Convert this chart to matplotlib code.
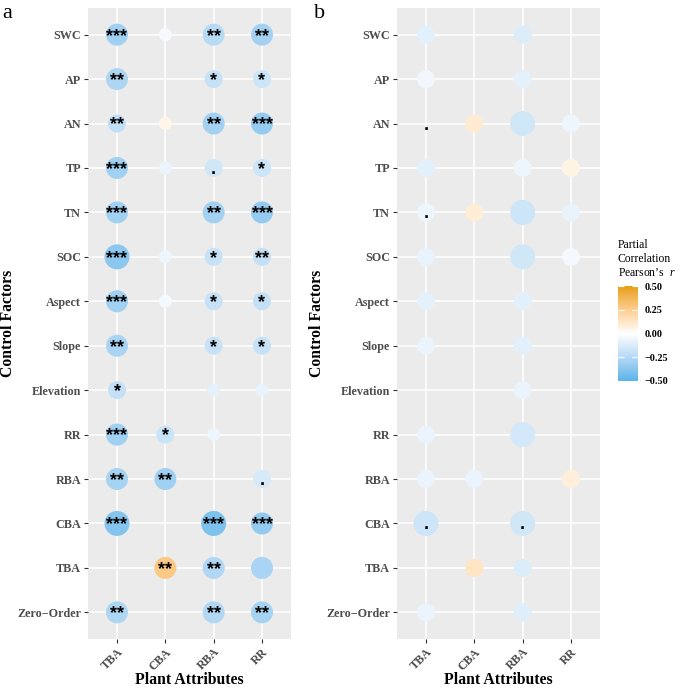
import numpy as np
import matplotlib
matplotlib.use('Agg')
import matplotlib.pyplot as plt
from matplotlib.colors import ListedColormap, Normalize, to_rgb
from matplotlib.cm import ScalarMappable

plt.rcParams['font.family'] = ['Liberation Serif', 'DejaVu Serif']
plt.rcParams['mathtext.fontset'] = 'custom'
plt.rcParams['mathtext.it'] = 'Liberation Serif:italic'
plt.rcParams['mathtext.rm'] = 'Liberation Serif'

# Daten
attributes = ['TBA', 'CBA', 'RBA', 'RR']
factors = ['SWC', 'AP', 'AN', 'TP', 'TN', 'SOC', 'Aspect', 'Slope',
           'Elevation', 'RR', 'RBA', 'CBA', 'TBA', 'Zero\u2212Order']
nan = np.nan

# panel a (rows = factors, cols = attributes)
r_a = [
    [-0.31, -0.03, -0.24, -0.30],
    [-0.27, nan, -0.19, -0.17],
    [-0.21, 0.05, -0.30, -0.34],
    [-0.31, -0.07, -0.16, -0.17],
    [-0.31, nan, -0.30, -0.34],
    [-0.37, -0.06, -0.19, -0.20],
    [-0.31, -0.04, -0.19, -0.20],
    [-0.28, nan, -0.19, -0.19],
    [-0.20, nan, -0.09, -0.08],
    [-0.31, -0.18, -0.06, nan],
    [-0.29, -0.31, nan, -0.14],
    [-0.39, nan, -0.41, -0.35],
    [nan, 0.27, -0.26, -0.28],
    [-0.27, nan, -0.26, -0.29],
]
sig_a = [
    ['***', '', '**', '**'],
    ['**', '', '*', '*'],
    ['**', '', '**', '***'],
    ['***', '', '.', '*'],
    ['***', '', '**', '***'],
    ['***', '', '*', '**'],
    ['***', '', '*', '*'],
    ['**', '', '*', '*'],
    ['*', '', '', ''],
    ['***', '*', '', ''],
    ['**', '**', '', '.'],
    ['***', '', '***', '***'],
    ['', '**', '**', ''],
    ['**', '', '**', '**'],
]

# panel b
r_b = [
    [-0.10, nan, -0.12, nan],
    [-0.05, nan, -0.09, nan],
    [nan, 0.10, -0.16, -0.06],
    [-0.10, nan, -0.06, 0.06],
    [-0.06, 0.09, -0.17, -0.08],
    [-0.08, nan, -0.16, -0.04],
    [-0.09, nan, -0.10, nan],
    [-0.07, nan, -0.10, nan],
    [nan, nan, -0.07, nan],
    [-0.07, nan, -0.15, nan],
    [-0.07, -0.07, nan, 0.08],
    [-0.17, nan, -0.16, nan],
    [nan, 0.13, -0.12, nan],
    [-0.07, nan, -0.11, nan],
]
sig_b = [
    ['', '', '', ''],
    ['', '', '', ''],
    ['.', '', '', ''],
    ['', '', '', ''],
    ['.', '', '', ''],
    ['', '', '', ''],
    ['', '', '', ''],
    ['', '', '', ''],
    ['', '', '', ''],
    ['', '', '', ''],
    ['', '', '', ''],
    ['.', '', '.', ''],
    ['', '', '', ''],
    ['', '', '', ''],
]


# Farbverlauf im Lab-Raum (wie scale_colour_gradient2)
def to_lab(c):
    c = np.array(to_rgb(c))
    lin = np.where(c <= 0.04045, c / 12.92, ((c + 0.055) / 1.055) ** 2.4)
    M = np.array([[0.4124, 0.3576, 0.1805],
                  [0.2126, 0.7152, 0.0722],
                  [0.0193, 0.1192, 0.9505]])
    xyz = M @ lin / np.array([0.95047, 1.0, 1.08883])
    f = np.where(xyz > 0.008856, np.cbrt(xyz), 7.787 * xyz + 16 / 116)
    return np.array([116 * f[1] - 16, 500 * (f[0] - f[1]), 200 * (f[1] - f[2])])


def from_lab(lab):
    fy = (lab[0] + 16) / 116
    fx = fy + lab[1] / 500
    fz = fy - lab[2] / 200
    f = np.array([fx, fy, fz])
    xyz = np.where(f ** 3 > 0.008856, f ** 3, (f - 16 / 116) / 7.787)
    xyz = xyz * np.array([0.95047, 1.0, 1.08883])
    Mi = np.array([[3.2406, -1.5372, -0.4986],
                   [-0.9689, 1.8758, 0.0415],
                   [0.0557, -0.2040, 1.0570]])
    lin = Mi @ xyz
    c = np.where(lin <= 0.0031308, 12.92 * lin, 1.055 * np.clip(lin, 0, None) ** (1 / 2.4) - 0.055)
    return np.clip(c, 0, 1)


low, mid, high = to_lab('#56B4E9'), to_lab('#FFFFFF'), to_lab('#E69F00')
cols = []
for t in np.linspace(-1, 1, 256):
    if t < 0:
        cols.append(from_lab(mid + (low - mid) * (-t)))
    else:
        cols.append(from_lab(mid + (high - mid) * t))
cmap = ListedColormap(cols)
norm = Normalize(-0.5, 0.5)
px = 0.72  # points per pixel at dpi 100


def panel(ax, r, sig, breaks, diam_px):
    r = np.array(r, dtype=float)
    ny = len(factors)
    ax.set_facecolor('#EBEBEB')
    for s in ax.spines.values():
        s.set_visible(False)
    ax.set_xlim(0.4, len(attributes) + 0.6)
    ax.set_ylim(0.4, ny + 0.6)
    ax.set_xticks(np.arange(1, len(attributes) + 1))
    ax.set_yticks(np.arange(1, ny + 1))
    ax.set_xticklabels(attributes, rotation=45, ha='right', va='top',
                       rotation_mode='anchor')
    ax.set_yticklabels(factors[::-1])
    ax.grid(True, color='white', lw=1.1)
    ax.set_axisbelow(True)
    ax.tick_params(length=3, width=0.8, color='#333333', labelcolor='#4D4D4D',
                   labelsize=8.7, pad=2)
    for lab in ax.get_xticklabels() + ax.get_yticklabels():
        lab.set_fontweight('bold')

    ii, jj = np.where(~np.isnan(r))
    vals = r[ii, jj]
    d = np.array(diam_px)[np.digitize(np.abs(vals), breaks)] * px
    ax.scatter(jj + 1, ny - ii, s=d ** 2, c=vals, cmap=cmap, norm=norm,
               linewidths=0, zorder=3)
    for i in range(ny):
        for j in range(len(attributes)):
            if sig[i][j]:
                ax.annotate(sig[i][j], (j + 1, ny - i), xytext=(0, -4.3),
                            textcoords='offset points', ha='center',
                            va='baseline', fontsize=13, fontweight='bold',
                            family='Liberation Sans', color='black', zorder=4)

    ax.set_xlabel('Plant Attributes', fontsize=11.3, fontweight='bold', va='baseline')
    ax.xaxis.set_label_coords(0.5, -45 / 631)
    ax.set_ylabel('Control Factors', fontsize=11.3, fontweight='bold', va='center')
    ax.yaxis.set_label_coords(-80 / 203, 0.5)


fig = plt.figure(figsize=(6.85, 6.88), dpi=100)
W, H = 685, 688
ax_a = fig.add_axes([88 / W, 1 - 639 / H, 203 / W, 631 / H])
ax_b = fig.add_axes([397 / W, 1 - 639 / H, 203 / W, 631 / H])

panel(ax_a, r_a, sig_a, [0.11, 0.225, 0.36], [13, 18, 22, 25])
panel(ax_b, r_b, sig_b, [0.14], [18, 25])

fig.text(2 / W, 1 - 18 / H, 'a', fontsize=16)
fig.text(314 / W, 1 - 18 / H, 'b', fontsize=16)

# Legende
fig.text(618 / W, 1 - 239 / H, 'Partial\nCorrelation\nPearson\u2019s  $r$',
         fontsize=8.4, va='top', ha='left', linespacing=1.2)
cax = fig.add_axes([618 / W, 1 - 381 / H, 20 / W, 95 / H])
cb = fig.colorbar(ScalarMappable(norm=norm, cmap=cmap), cax=cax,
                  ticks=[-0.5, -0.25, 0, 0.25, 0.5])
cb.outline.set_visible(False)
cb.ax.set_yticklabels(['\u22120.50', '\u22120.25', '0.00', '0.25', '0.50'])
cb.ax.tick_params(direction='in', color='white', length=4, width=0.8,
                  left=True, right=True, labelsize=7.3, pad=5)
for lab in cb.ax.get_yticklabels():
    lab.set_fontweight('bold')

fig.savefig('out.png', dpi=100)
